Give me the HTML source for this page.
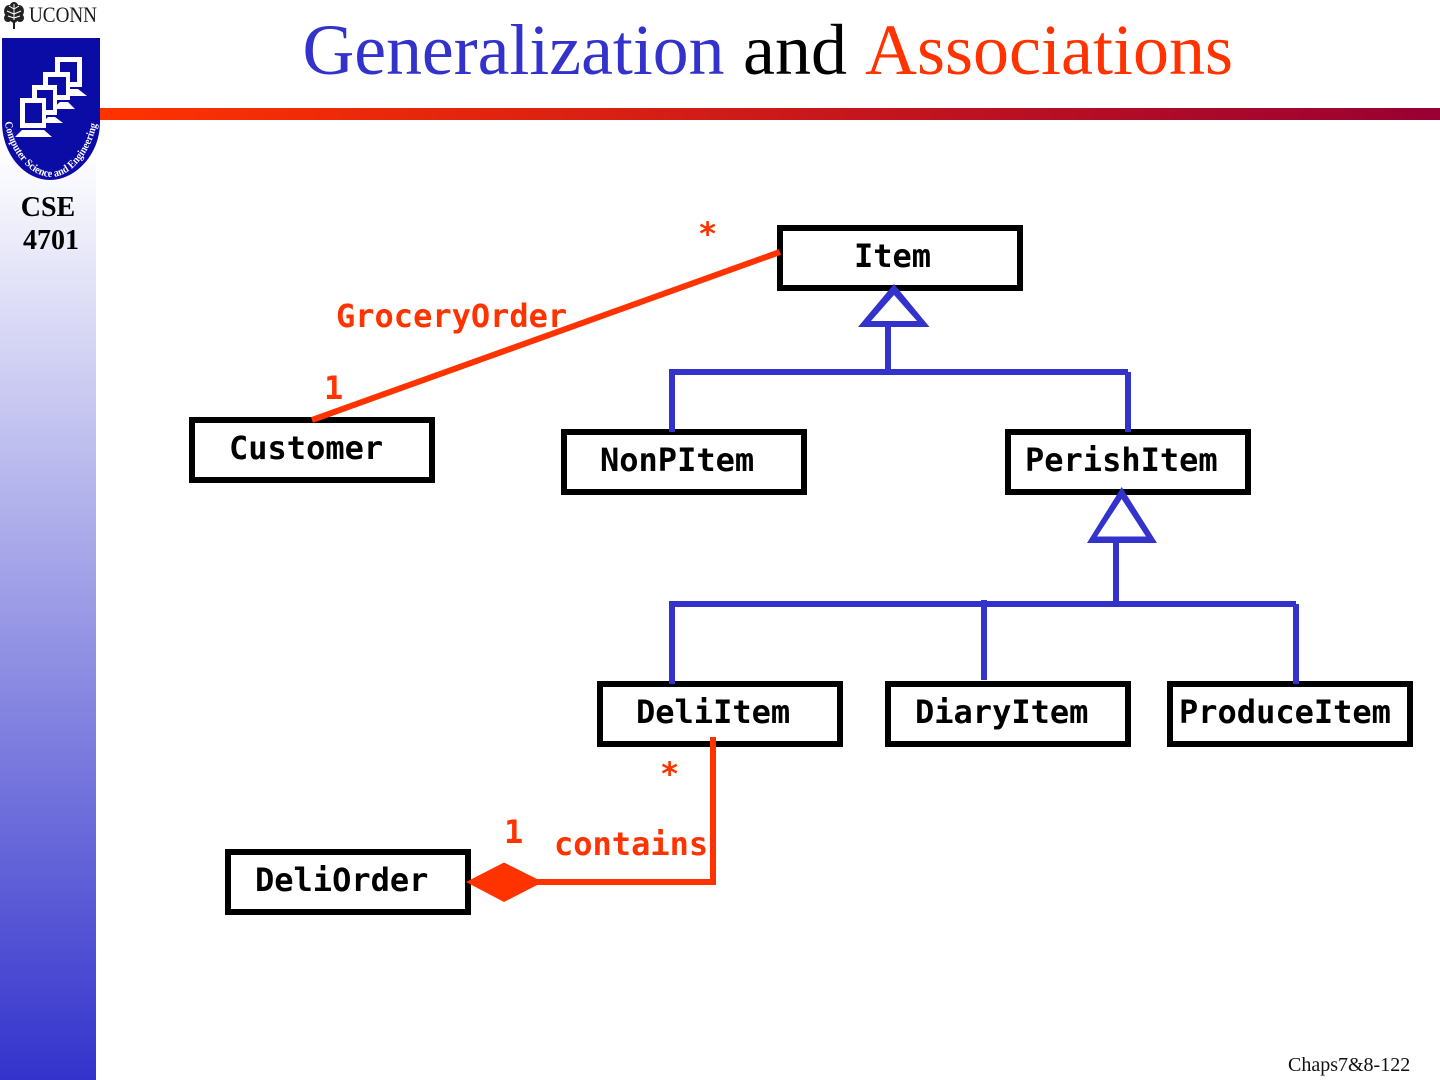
<!DOCTYPE html>
<html><head><meta charset="utf-8"><style>
html,body{margin:0;padding:0;background:#fff}
svg{display:block}
.m{font-family:"DejaVu Sans Mono","Liberation Mono",monospace;font-weight:bold;font-size:32px}
.o{fill:#FF3300}
.s{font-family:"Liberation Serif",serif}
</style></head><body>
<svg width="1440" height="1080" viewBox="0 0 1440 1080" xmlns="http://www.w3.org/2000/svg">
<defs>
<linearGradient id="side" x1="0" y1="0" x2="0" y2="1"><stop offset="0" stop-color="#fff"/><stop offset="1" stop-color="#3333CC"/></linearGradient>
<linearGradient id="bar" x1="0" y1="0" x2="1" y2="0"><stop offset="0" stop-color="#FF3300"/><stop offset="1" stop-color="#990033"/></linearGradient>
<path id="arc" d="M5,122 C8,150 30,177 51,177 C72,177 94,150 98,116"/>
</defs>
<rect width="1440" height="1080" fill="#fff"/>
<rect x="0" y="150" width="96" height="930" fill="url(#side)"/>
<rect x="100" y="108" width="1340" height="12" fill="url(#bar)"/>

<!-- UCONN mark -->
<g fill="#222">
<ellipse cx="14" cy="9" rx="5" ry="7"/>
<ellipse cx="9" cy="11" rx="5" ry="6"/>
<ellipse cx="19" cy="11" rx="5" ry="6"/>
<ellipse cx="8" cy="18" rx="4" ry="4"/>
<ellipse cx="20" cy="18" rx="4" ry="4"/>
<ellipse cx="14" cy="18" rx="4" ry="5"/>
<rect x="13" y="20" width="2" height="9"/>
</g>
<path d="M14,4V20M14,9L9,6M14,9L19,6M14,14L7,11M14,14L21,11M14,18L8,16M14,18L20,16" stroke="#fff" stroke-width="1" fill="none"/>
<text x="29" y="22" class="s" font-size="22" textLength="68" lengthAdjust="spacingAndGlyphs" fill="#1a1a1a">UCONN</text>

<!-- logo -->
<path d="M2,38H100V122C100,155 75,180 50,180C25,180 2,155 2,122Z" fill="#0B0BA5"/>
<g fill="#fff">
<path d="M70,89H78L87,96H64Z"/>
<rect x="55" y="57" width="27" height="30"/>
</g>
<rect x="60" y="62" width="17" height="20" fill="#0B0BA5"/>
<g fill="#fff">
<path d="M60,102H68L75,109H52Z"/>
<rect x="43" y="72" width="27" height="28"/>
</g>
<rect x="48" y="77" width="18" height="18" fill="#0B0BA5"/>
<g fill="#fff">
<path d="M48,117H55L63,123H42Z"/>
<rect x="32" y="85" width="25" height="30"/>
</g>
<rect x="37" y="90" width="16" height="20" fill="#0B0BA5"/>
<g fill="#fff">
<path d="M22,130H44L52,137H15Z"/>
<rect x="20" y="98" width="26" height="30"/>
</g>
<rect x="25" y="103" width="17" height="20" fill="#0B0BA5"/>
<text class="s" font-size="11" font-weight="bold" fill="#fff"><textPath href="#arc" textLength="152" lengthAdjust="spacingAndGlyphs">Computer Science and Engineering</textPath></text>

<text x="48" y="216" text-anchor="middle" class="s" font-weight="bold" font-size="28">CSE</text>
<text x="51" y="249" text-anchor="middle" class="s" font-weight="bold" font-size="28">4701</text>

<text x="302.5" y="74" class="s" font-size="71.7" fill="#3333CC">Generalization</text>
<text x="743" y="74" class="s" font-size="72" fill="#000">and</text>
<text x="865" y="74" class="s" font-size="72" fill="#FF3300">Associations</text>

<!-- boxes -->
<g fill="#fff" stroke="#000" stroke-width="6">
<rect x="780" y="228" width="240" height="60"/>
<rect x="192" y="420" width="240" height="60"/>
<rect x="564" y="432" width="240" height="60"/>
<rect x="1008" y="432" width="240" height="60"/>
<rect x="600" y="684" width="240" height="60"/>
<rect x="888" y="684" width="240" height="60"/>
<rect x="1170" y="684" width="240" height="60"/>
<rect x="228" y="852" width="240" height="60"/>
</g>

<!-- generalization -->
<g stroke="#3333CC" stroke-width="6" fill="none">
<path d="M888,324V372M669,372H1128M672,372V432M1128,372V432"/>
<path d="M1116,540V604M669,604H1296M672,604V684M984,600V680M1296,604V684"/>
</g>
<path fill="#3333CC" fill-rule="evenodd" d="M894,284L929.5,327H858ZM894,295L871,321H917Z"/>
<path fill="#3333CC" fill-rule="evenodd" d="M1121.7,487L1157,543H1087ZM1121.7,499L1097,536.5H1146Z"/>

<!-- associations -->
<g stroke="#FF3300" stroke-width="6" fill="none">
<path d="M780,252L312,420"/>
<path d="M713,737V882H536"/>
</g>
<path fill="#FF3300" d="M466,882L504,862.5L543,882L504,902Z"/>

<!-- labels -->
<g class="m" fill="#000">
<text x="854" y="267">Item</text>
<text x="229" y="459">Customer</text>
<text x="600" y="471">NonPItem</text>
<text x="1025" y="471">PerishItem</text>
<text x="636" y="723">DeliItem</text>
<text x="915" y="723">DiaryItem</text>
<text x="1179" y="723">ProduceItem</text>
<text x="255" y="891">DeliOrder</text>
</g>
<g class="m o">
<text x="698" y="245">*</text>
<text x="336" y="327">GroceryOrder</text>
<text x="324" y="399">1</text>
<text x="660" y="785">*</text>
<text x="504" y="843">1</text>
<text x="554" y="855">contains</text>
</g>
<text x="1288" y="1071" class="s" font-size="20" fill="#111">Chaps7&amp;8-122</text>
</svg>
</body></html>
